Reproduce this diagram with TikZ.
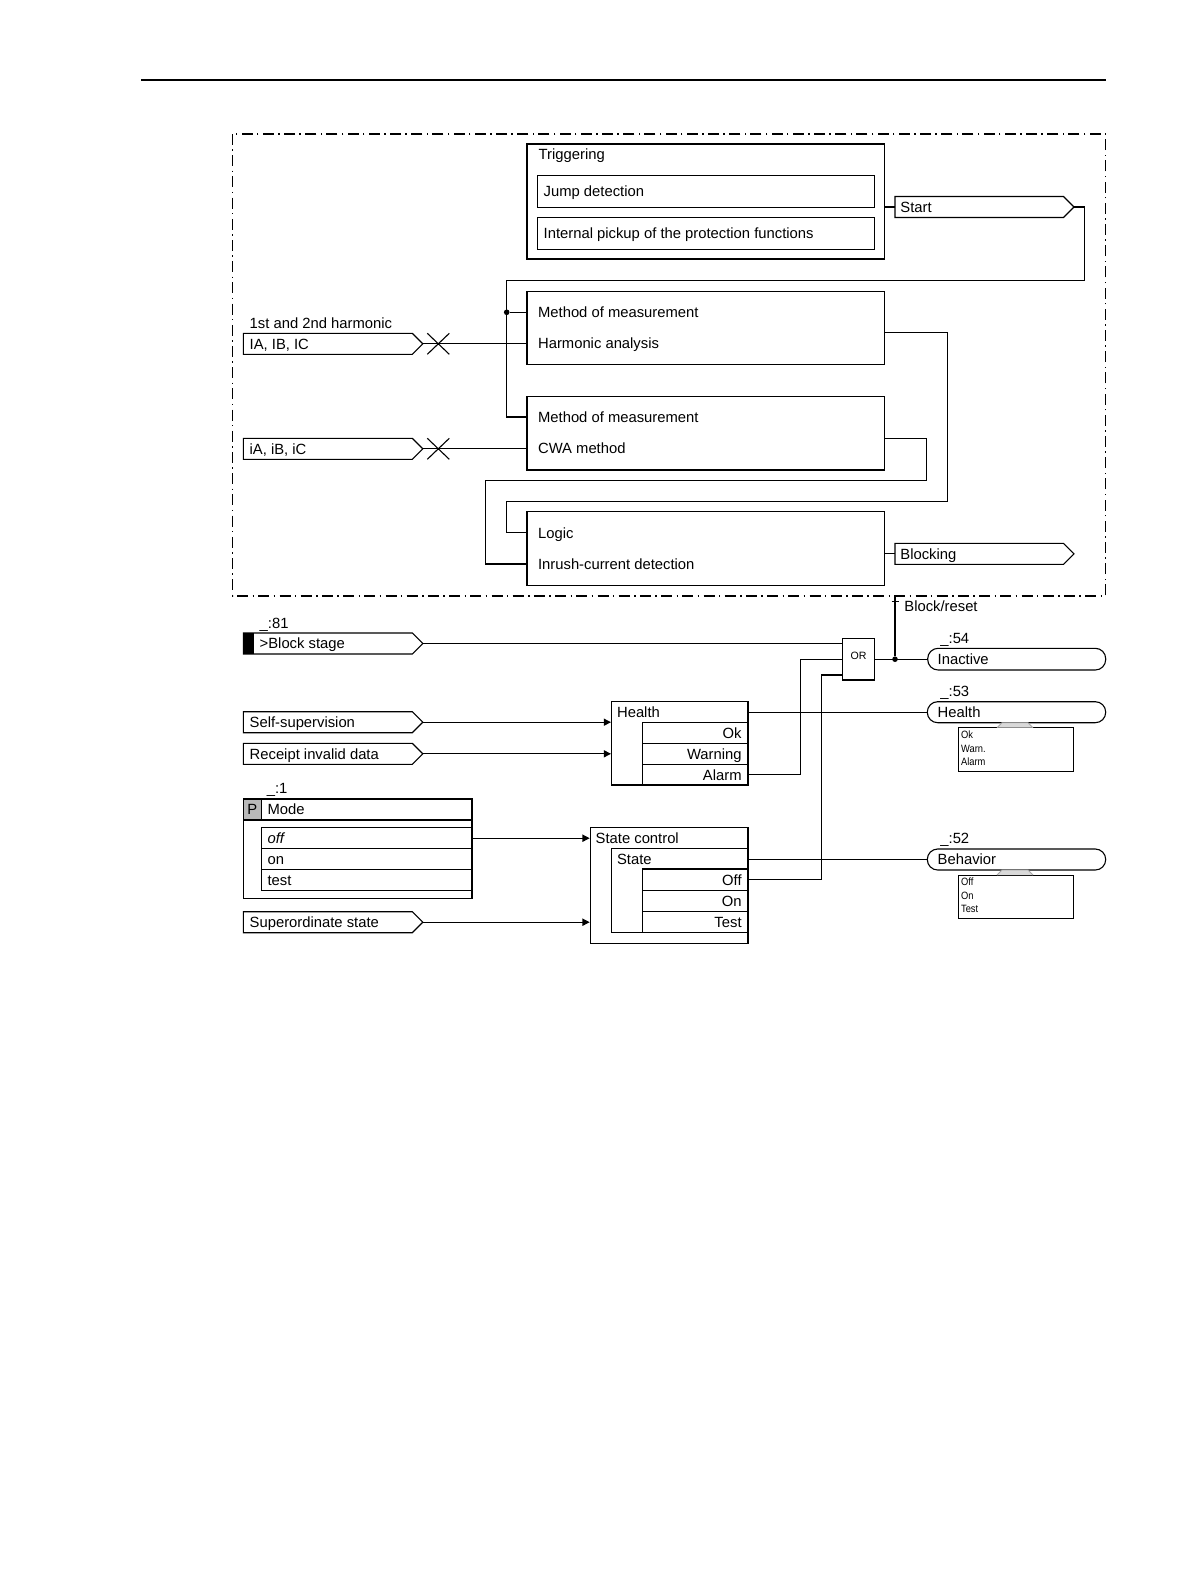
\documentclass[tikz,border=0pt]{standalone}
\usepackage{fontspec}
\setmainfont{Liberation Sans}
\newfontfamily\narrowfont[FakeStretch=0.88]{Liberation Sans}
\usetikzlibrary{arrows.meta,fit}
\newcommand\fs{\fontsize{7.4bp}{8.9bp}\selectfont}
\newcommand\fsm{\narrowfont\fontsize{5.3bp}{6.4bp}\selectfont}
\newcommand\fso{\fontsize{5.3bp}{6.4bp}\selectfont}
% signal shape: name, x left, y center, body length
\newcommand\insig[4]{%
  \draw[sig] (#2,#3-10.5) -- (#2+#4,#3-10.5) -- (#2+#4+10.5,#3) -- (#2+#4,#3+10.5) -- (#2,#3+10.5) -- cycle;
  \coordinate (#1) at (#2+#4+10.5,#3);
  \coordinate (#1-w) at (#2,#3);}
\newcommand\T[4]{\node[tl] (#1) at (#2,#3+5.3) {#4};}
\newcommand\TR[4]{\node[tr] (#1) at (#2,#3+5.3) {#4};}
\newcommand\TS[4]{\node[tl,font=\fsm] (#1) at (#2,#3+3.8) {#4};}
\begin{document}
\begin{tikzpicture}[x=0.5bp,y=-0.5bp,
  ln/.style={line width=0.55bp},
  box/.style={draw,line width=0.55bp,inner sep=0pt},
  tl/.style={inner sep=0pt,anchor=base west,font=\fs},
  tr/.style={inner sep=0pt,anchor=base east,font=\fs},
  sig/.style={draw,line width=0.55bp},
  dot/.style={circle,fill,inner sep=0pt,minimum size=2.8bp},
  arr/.style={ln,-{Triangle[length=3.6bp,width=3.6bp]}},
  frame/.style={line width=0.6bp,dash pattern=on 5.5bp off 2.2bp on 0.7bp off 2.2bp},
  oval/.style={draw,line width=0.55bp,inner sep=0pt,rounded corners=5.2bp},
  tab/.style={fill=gray!30,draw=gray!70,line width=0.4bp}]
\useasboundingbox (0,0) rectangle (1191,1587);
% top rule and frame
\draw[line width=0.8bp] (141,80) -- (1106,80);
\draw[frame] (232.7,134) rectangle (1105.7,596);

% Triggering
\node[box,fit={(527,144) (884.3,259)}] (trig) {};
\node[box,fit={(537.7,175.7) (874.3,207.3)}] (jump) {};
\node[box,fit={(537.7,217.7) (874.3,249.3)}] (pick) {};
\T{tTrig}{538.3}{154}{Triggering}
\T{tJump}{543.3}{191.5}{Jump detection}
\T{tPick}{543.3}{233.5}{Internal pickup of the protection functions}

% Start
\insig{start}{895}{207}{168.5}
\T{tStart}{900}{207}{Start}
\draw[ln] (trig.east |- start-w) -- (start-w);

% Harmonic analysis
\node[box,fit={(527,291.7) (884.3,364.3)}] (harm) {};
\T{tH1}{537.7}{312}{Method of measurement}
\T{tH2}{537.7}{343.3}{Harmonic analysis}
% CWA
\node[box,fit={(527,396.7) (884.3,470)}] (cwa) {};
\T{tC1}{537.7}{416.7}{Method of measurement}
\T{tC2}{537.7}{448.3}{CWA method}
% Logic
\node[box,fit={(527,511.7) (884.3,585.7)}] (logic) {};
\T{tL1}{537.7}{532.7}{Logic}
\T{tL2}{537.7}{564}{Inrush-current detection}

% Start loop
\coordinate (c1) at (1084.3,280.3);
\coordinate (b1) at (506.7,417);
\node[dot] (j1) at (506.7,312.3) {};
\draw[ln] (start) -| (c1) -| (b1) -- (cwa.west |- b1);
\draw[ln] (j1) -- (harm.west |- j1);

% inputs
\insig{ia}{243.3}{343.8}{169}
\T{tIA}{249.3}{343.8}{IA, IB, IC}
\T{tHarm}{249.3}{323.3}{1st and 2nd harmonic}
\insig{ib}{243.3}{448.8}{169}
\T{tIB}{249.3}{448.8}{iA, iB, iC}
\draw[ln] (ia) -- (harm.west |- ia);
\draw[ln] (ib) -- (cwa.west |- ib);
\coordinate (x1) at (438.3,343.8);
\coordinate (x2) at (438.3,448.8);
\draw[ln] ([shift={(-11,-10.5)}]x1) -- ([shift={(11,10.5)}]x1)
          ([shift={(-11,10.5)}]x1) -- ([shift={(11,-10.5)}]x1);
\draw[ln] ([shift={(-11,-10.5)}]x2) -- ([shift={(11,10.5)}]x2)
          ([shift={(-11,10.5)}]x2) -- ([shift={(11,-10.5)}]x2);

% Harmonic -> Logic
\coordinate (h1) at (947.7,332.7);
\coordinate (h2) at (506.7,501.7);
\coordinate (lgA) at (527,532.7);
\draw[ln] (harm.east |- h1) -- (h1) |- (h2) |- (lgA);
% CWA -> Logic
\coordinate (w1) at (926.7,438.3);
\coordinate (w2) at (485.7,480.3);
\coordinate (lgB) at (527,564);
\draw[ln] (cwa.east |- w1) -- (w1) |- (w2) |- (lgB);

% Blocking
\insig{blocking}{895}{553.8}{168.5}
\T{tBlocking}{900}{553.8}{Blocking}
\draw[ln] (logic.east |- blocking-w) -- (blocking-w);

% Block stage
\fill (243.3,633) rectangle (254.3,654);
\insig{blk}{243.3}{643.5}{169}
\T{tBlk}{259.3}{643.5}{>Block stage}
\T{t81}{259.3}{622.7}{\_:81}

% OR gate
\node[box,fit={(842.7,638.3) (874.3,680)}] (or) {};
\node[inner sep=0pt,font=\fso] (tOR) at (858.5,656) {OR};
\draw[ln] (blk) -- (or.west |- blk);

% Inactive
\node[oval,fit={(927.7,648.3) (1105.7,670)}] (inact) {};
\T{tInact}{937.3}{659.2}{Inactive}
\T{t54}{940}{638.3}{\_:54}
\node[dot] (j2) at (895,659.2) {};
\draw[ln] (or.east) -- (inact.west);
\coordinate (br) at (895,597);
\coordinate (brL) at (891.5,601.5);
\coordinate (brR) at (898.5,601.5);
\draw[ln] (br) -- (j2);
\draw[ln] (brL) -- (brR);
\T{tBr}{904}{606}{Block/reset}

% Health block
\node[box,fit={(611.5,701.7) (748,785)}] (hb) {};
\node[box,fit={(642.9,722.3) (748,743.3)}] (hbok) {};
\node[box,fit={(642.9,743.3) (748,764.3)}] (hbwa) {};
\node[box,fit={(642.9,764.3) (748,785)}] (hbal) {};
\T{tHb}{616.7}{712}{Health}
\TR{tOk}{742}{733}{Ok}
\TR{tWa}{742}{753.8}{Warning}
\TR{tAl}{742}{774.7}{Alarm}

\insig{ss}{243.3}{722.2}{169}
\T{tSs}{249.3}{722.2}{Self-supervision}
\insig{ri}{243.3}{753.8}{169}
\T{tRi}{249.3}{753.8}{Receipt invalid data}
\draw[arr] (ss) -- (hb.west |- ss);
\draw[arr] (ri) -- (hb.west |- ri);

% Health output
\node[oval,fit={(927.3,701.7) (1105.7,722.7)}] (hov) {};
\T{tHov}{937.3}{712.2}{Health}
\T{t53}{940}{690.7}{\_:53}
\draw[ln] (hb.east |- hov.west) -- (hov.west);
\node[draw,line width=0.5bp,inner sep=0pt,fit={(958,727.7) (1073.3,771)}] (hlist) {};
\draw[tab] (997,727.7) -- (1002,722.7) -- (1028,722.7) -- (1033,727.7);
\TS{tL1a}{960.7}{735}{Ok}
\TS{tL1b}{960.7}{748.5}{Warn.}
\TS{tL1c}{960.7}{761.3}{Alarm}

% Mode
\T{t1}{266.5}{788.3}{\_:1}
\node[box,fit={(243.4,799) (472,898.3)}] (mode) {};
\node[draw,line width=0.75bp,inner sep=0pt,fit={(243.4,799) (472,820)}] (modeh) {};
\node[draw,fill=gray!55,line width=0.75bp,inner sep=0pt,fit={(243.4,799) (261.3,820)}] (pcell) {};
\node[inner sep=0pt,font=\fs,anchor=base] (tP) at (252.3,814.8) {P};
\T{tMode}{267.2}{809.5}{Mode}
\node[box,fit={(261.3,827.7) (472,848.7)}] (moff) {};
\node[box,fit={(261.3,848.7) (472,869.7)}] (mon) {};
\node[box,fit={(261.3,869.7) (472,890.7)}] (mtest) {};
\T{tOff}{267.2}{838.2}{\textit{off}}
\T{tOn}{267.2}{859.2}{on}
\T{tTest}{267.2}{880.2}{test}

% State control
\node[box,fit={(590.2,827.3) (748,943.3)}] (sc) {};
\node[box,fit={(611.5,848.7) (748,932.3)}] (stb) {};
\node[box,fit={(642.9,869) (748,890.7)}] (stoff) {};
\node[box,fit={(642.9,890.7) (748,911.7)}] (ston) {};
\node[box,fit={(642.9,911.7) (748,932.3)}] (sttest) {};
\T{tSc}{595.3}{838}{State control}
\T{tSt}{616.7}{859}{State}
\TR{tSOff}{742}{880}{Off}
\TR{tSOn}{742}{901}{On}
\TR{tSTest}{742}{922}{Test}
\draw[arr] (moff.east) -- (sc.west |- moff.east);
\insig{sup}{243.3}{922.2}{169}
\T{tSup}{249.3}{922.2}{Superordinate state}
\draw[arr] (sup) -- (sc.west |- sup);

% Behavior
\node[oval,fit={(927.3,849) (1105.7,870)}] (beh) {};
\T{tBeh}{937.3}{859.5}{Behavior}
\T{t52}{940}{838.3}{\_:52}
\draw[ln] (stb.east |- beh.west) -- (beh.west);
\node[draw,line width=0.5bp,inner sep=0pt,fit={(958,875) (1073.3,918.3)}] (blist) {};
\draw[tab] (997,875) -- (1002,870) -- (1028,870) -- (1033,875);
\TS{tL2a}{960.7}{881.7}{Off}
\TS{tL2b}{960.7}{895.3}{On}
\TS{tL2c}{960.7}{908.3}{Test}

% Alarm / Off into OR
\coordinate (a1) at (800.7,659.3);
\coordinate (o1) at (821.7,675);
\draw[ln] (hbal.east) -| (a1) -- (or.west |- a1);
\draw[ln] (stoff.east) -| (o1) -- (or.west |- o1);
\end{tikzpicture}
\end{document}
